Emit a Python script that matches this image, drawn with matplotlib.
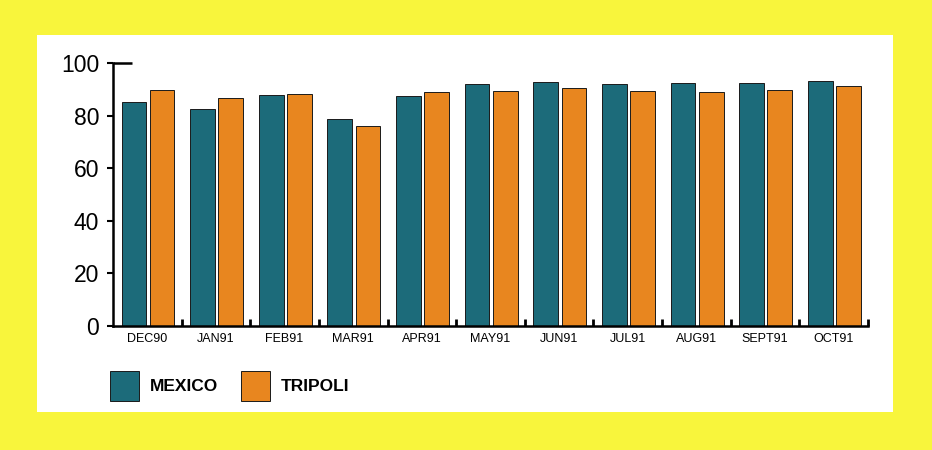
import numpy as np
import matplotlib.pyplot as plt
from matplotlib.patches import Rectangle

# Dane
miesiace = ['DEC90', 'JAN91', 'FEB91', 'MAR91', 'APR91', 'MAY91',
            'JUN91', 'JUL91', 'AUG91', 'SEPT91', 'OCT91']
mexico = [85.2, 82.5, 87.7, 78.8, 87.6, 91.9, 92.6, 92.2, 92.5, 92.4, 93.0]
tripoli = [89.8, 86.8, 88.2, 76.2, 89.1, 89.2, 90.6, 89.3, 88.8, 89.6, 91.4]

kolor_mexico = '#1c6b7a'
kolor_tripoli = '#e8861f'

plt.rcParams['font.family'] = ['Liberation Sans', 'DejaVu Sans']

fig = plt.figure(figsize=(9.32, 4.5), dpi=100)
fig.patch.set_facecolor('#f8f53c')
# biale tlo
fig.patches.append(Rectangle((37 / 932, 1 - 412 / 450), 856 / 932, 377 / 450,
                             transform=fig.transFigure, facecolor='white',
                             edgecolor='none', zorder=-5))

ax = fig.add_axes([113 / 932, 1 - 326 / 450, 755 / 932, 263 / 450])
ax.set_facecolor('none')
ax.set_zorder(2)

x = np.arange(len(miesiace))
szer = 0.36
b1 = ax.bar(x - 0.195, mexico, szer, color=kolor_mexico, edgecolor='#1a1a1a',
            linewidth=0.7, label='MEXICO')
b2 = ax.bar(x + 0.215, tripoli, szer, color=kolor_tripoli, edgecolor='#1a1a1a',
            linewidth=0.7, label='TRIPOLI')

ax.set_xlim(-0.5, len(miesiace) - 0.5)
ax.set_ylim(0, 100)
ax.set_yticks([0, 20, 40, 60, 80, 100])
ax.tick_params(axis='y', labelsize=16.5, length=4, width=1.5, direction='out', pad=6)

ax.set_xticks(x)
ax.set_xticklabels(miesiace, fontsize=9)
ax.tick_params(axis='x', which='major', length=0, pad=5)
ax.set_xticks(x + 0.5, minor=True)
ax.tick_params(axis='x', which='minor', length=5, width=2, direction='in')

for s in ['top', 'right']:
    ax.spines[s].set_visible(False)
ax.spines['left'].set_linewidth(1.8)
ax.spines['bottom'].set_linewidth(1.8)
# kreska na gorze osi Y
ax.plot([0, 0.025], [1, 1], transform=ax.transAxes, color='black',
        linewidth=1.8, clip_on=False, solid_capstyle='butt')

fig.legend(handles=[b1, b2], labels=['MEXICO', 'TRIPOLI'], loc='upper left',
           bbox_to_anchor=(103 / 932, 1 - 364 / 450), ncol=2, frameon=False,
           handlelength=1.7, handleheight=2.3, handletextpad=0.6,
           columnspacing=1.3, borderaxespad=0.0,
           prop={'weight': 'bold', 'size': 12.5})

fig.savefig('out.png', dpi=100, facecolor=fig.get_facecolor())
